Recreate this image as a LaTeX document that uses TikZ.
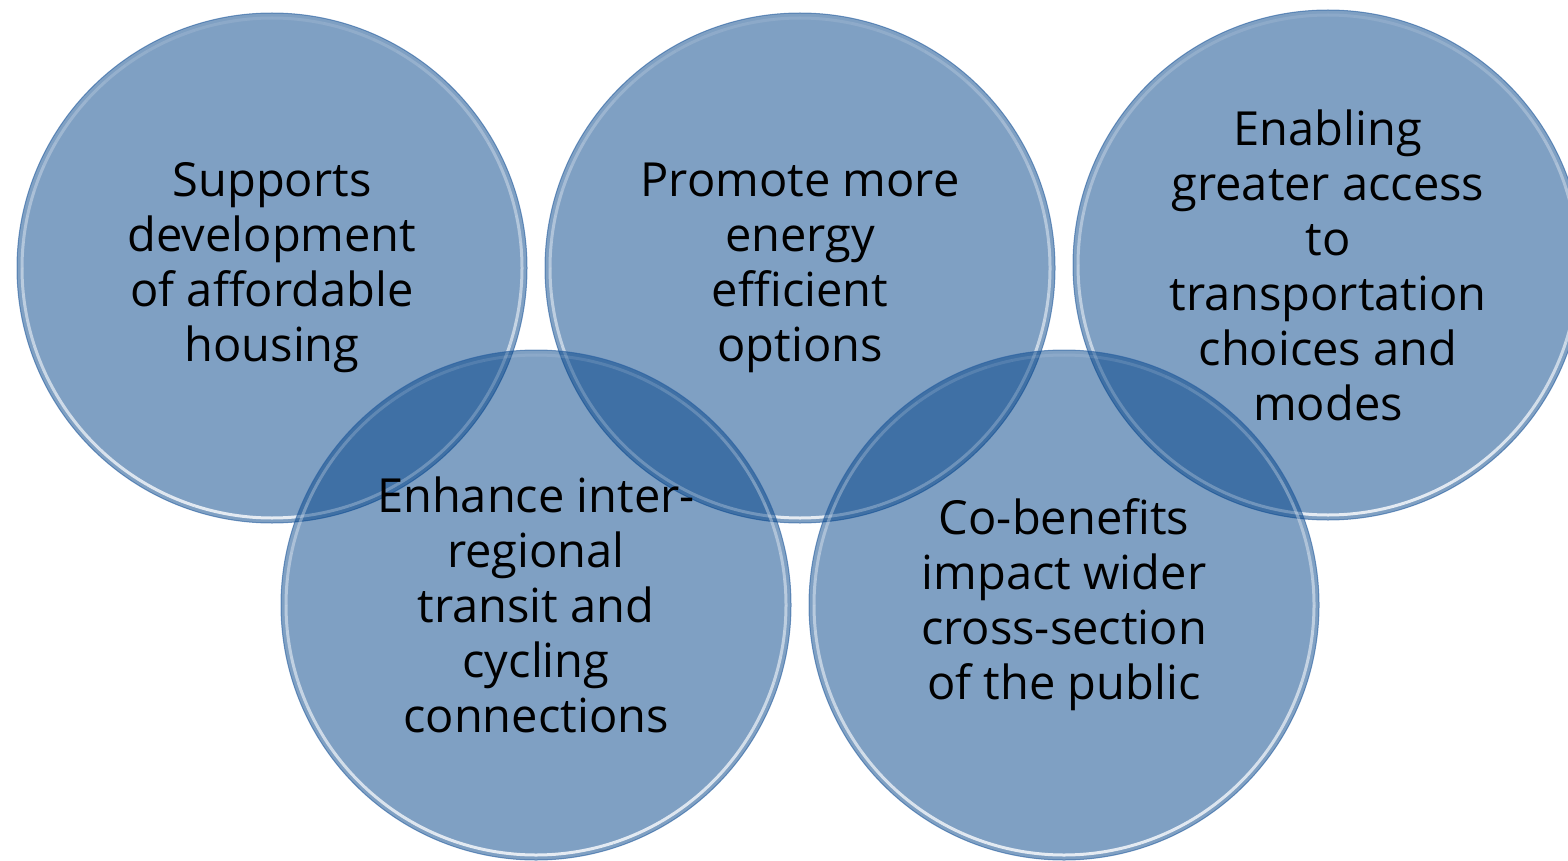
\documentclass[tikz,border=0pt]{standalone}
\usepackage{fontspec}
\setmainfont{Open Sans}
\definecolor{bubblefill}{RGB}{0,65,135}
\definecolor{bubblerim}{RGB}{40,95,160}
\tikzset{
  bubble/.style={circle, minimum size=510pt, inner sep=0pt, align=center,
    fill=bubblefill, fill opacity=0.5, text opacity=1,
    draw=bubblerim, draw opacity=0.6, line width=1pt,
    font=\fontsize{47}{55}\selectfont,
    path picture={
      \coordinate (pc) at (path picture bounding box.center);
      % highlight ring, strongest at the bottom
      \foreach \a [evaluate=\a as \op using {0.1+0.7*(1-sin(\a))/2}] in {0,6,...,354}
        \draw[white, draw opacity=\op, line width=3pt]
          ([shift={(\a:250pt)}]pc) arc[start angle=\a, end angle=\a+6, radius=250pt];
    }}
}

\begin{document}
\begin{tikzpicture}[x=1pt, y=-1pt]
  \useasboundingbox (0, 0) rectangle (1568, 861);
  \clip (0, 0) rectangle (1568, 861);

  \node[bubble] (housing) at (272, 268)
    {Supports\\development\\of affordable\\housing};
  \node[bubble] (energy) at (800, 268)
    {Promote more\\energy\\efficient\\options};
  \node[bubble] (access) at (1328, 265)
    {Enabling\\greater access\\to\\transportation\\choices and\\modes};
  \node[bubble] (transit) at (536, 605)
    {Enhance inter-\\regional\\transit and\\cycling\\connections};
  \node[bubble] (public) at (1064, 605)
    {Co-benefits\\impact wider\\cross-section\\of the public};
\end{tikzpicture}
\end{document}
